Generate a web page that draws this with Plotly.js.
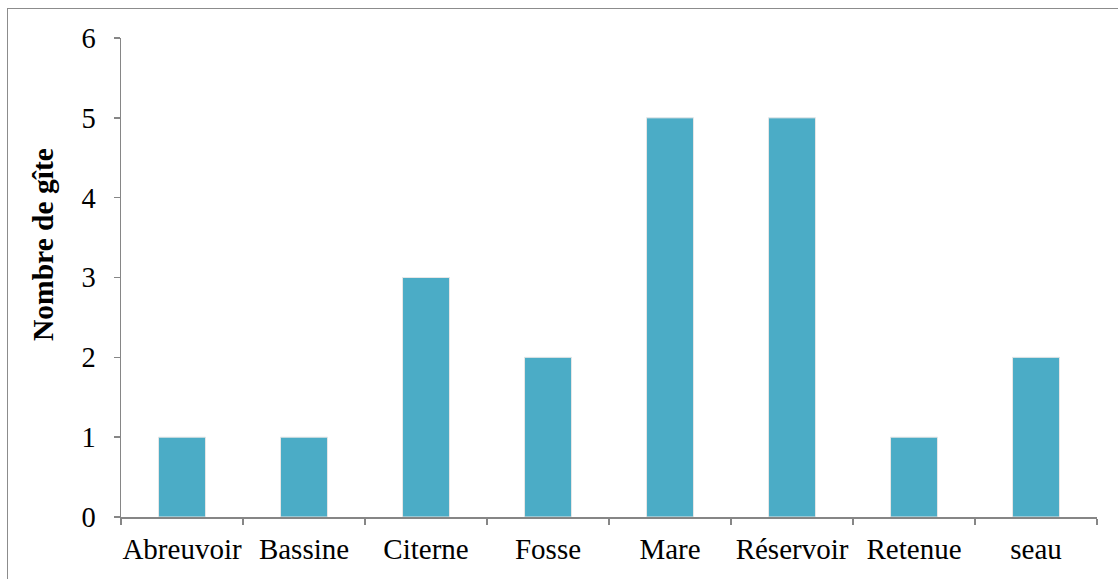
<!DOCTYPE html>
<html><head><meta charset="utf-8">
<script src="https://cdn.plot.ly/plotly-3.0.1.min.js"></script>
<style>
html,body{margin:0;padding:0;overflow:hidden;background:#fff;}
#wrap{position:relative;width:1118px;height:579px;overflow:hidden;}
#chart{position:absolute;left:0;top:0;width:1118px;height:579px;}
#frame{position:absolute;left:7px;top:8px;width:1200px;height:700px;border:1.5px solid #8c8c8c;box-sizing:border-box;pointer-events:none;}
</style>
</head><body>
<div id="wrap"><div id="chart"></div><div id="frame"></div></div>
<script>
const categories = ["Abreuvoir","Bassine","Citerne","Fosse","Mare","Réservoir","Retenue","seau"];
const values = [1,1,3,2,5,5,1,2];
const yTicks = [0,1,2,3,4,5,6];
const yTitle = 'Nombre de gîte';

Plotly.newPlot('chart', [{
  type: 'bar',
  x: categories,
  y: values,
  marker: {color: '#4BACC6', line: {color: '#e6e6e6', width: 1}},
  hoverinfo: 'none'
}], {
  width: 1118, height: 579,
  margin: {l: 121, r: 21, t: 38, b: 62},
  paper_bgcolor: 'rgba(0,0,0,0)',
  plot_bgcolor: 'rgba(0,0,0,0)',
  bargap: 0.615,
  showlegend: false,
  font: {family: 'Liberation Serif, Times New Roman, serif', color: '#000', size: 28},
  xaxis: {
    type: 'category',
    showline: true, linecolor: '#868686', linewidth: 1.5,
    ticks: 'outside', tickson: 'boundaries', ticklen: 6, tickcolor: '#868686', tickwidth: 1.5,
    showgrid: false, zeroline: false,
    tickangle: 0,
    tickfont: {size: 29, family: 'Liberation Serif, serif'},
    ticklabelstandoff: 6
  },
  yaxis: {
    range: [0, 6], tickvals: yTicks,
    showline: true, linecolor: '#868686', linewidth: 1.5,
    ticks: 'outside', ticklen: 6, tickcolor: '#868686', tickwidth: 1.5,
    showgrid: false, zeroline: false,
    tickfont: {size: 28.5, family: 'Liberation Serif, serif'},
    ticklabelstandoff: 12
  },
  annotations: [{
    text: '<b>' + yTitle + '</b>', textangle: -90,
    xref: 'paper', yref: 'paper', x: -0.0799, y: 0.568,
    xanchor: 'center', yanchor: 'middle', showarrow: false,
    font: {size: 29.5, family: 'Liberation Serif, serif', color: '#000'}
  }]
}, {displayModeBar: false, staticPlot: true});
</script>
</body></html>
